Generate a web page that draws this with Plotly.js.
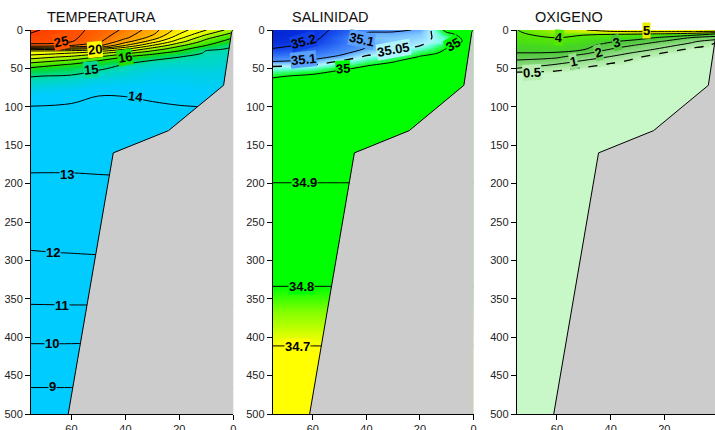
<!DOCTYPE html>
<html><head><meta charset="utf-8">
<script src="https://cdn.plot.ly/plotly-3.0.1.min.js"></script>
<style>html,body{margin:0;padding:0;overflow:hidden;background:#fff}#chart{width:720px;height:430px}</style>
</head><body><div id="chart"></div>
<script>
// ---------- DATA ----------
const distKm = [75, 60, 50, 40, 30, 20, 10, 0];

// Temperature (deg C)
const tempDepth = [0, 5, 10, 15, 20, 22.5, 25, 27.5, 30, 35, 40, 45, 50, 60, 70, 85, 100, 130, 185, 250, 290, 360, 405, 465, 500];
const tempValues = [
  [26.2, 25.3, 24.7, 23.8, 22.5, 20.5, 19.01, 17.5],
  [25.95, 25.25, 24.6, 23.5, 22.2, 20.01, 18.2, 16.7],
  [25.8, 25.2, 24.4, 23.2, 21.6, 19.3, 17.3, 16.01],
  [25.4, 25.05, 24.2, 22.4, 20.5, 18.4, 16.6, 15.5],
  [24.7, 24.02, 23.3, 21.02, 19.01, 17.25, 16.01, 15.01],
  [23.02, 22.7, 22.02, 20.01, 18.2, 16.75, 15.6, 14.95],
  [21.3, 21.02, 20.3, 19.01, 17.5, 16.35, 15.15, 14.9],
  [19.9, 19.7, 19.2, 18.2, 16.9, 15.95, 14.95, 14.88],
  [19.5, 19.01, 18.3, 17.3, 16.25, 15.6, 14.9, 14.85],
  [18.5, 17.8, 17.01, 16.01, 15.5, 15.01, 14.85, 14.8],
  [17.5, 16.8, 16.01, 15.45, 14.95, 14.85, 14.8, 14.75],
  [16.6, 15.9, 15.5, 14.95, 14.8, 14.75, 14.75, 14.7],
  [15.85, 15.5, 15.08, 14.85, 14.7, 14.65, 14.7, 14.65],
  [15.03, 14.92, 14.75, 14.65, 14.5, 14.5, 14.55, 14.55],
  [14.75, 14.63, 14.45, 14.4, 14.35, 14.4, 14.45, 14.45],
  [14.35, 14.2, 14.01, 14.02, 14.12, 14.2, 14.25, 14.3],
  [13.98, 13.92, 13.85, 13.85, 13.9, 13.97, 14.01, 14.1],
  [13.65, 13.6, 13.55, 13.55, 13.6, 13.6, 13.7, 13.75],
  [13.01, 13.01, 13.03, 13.05, 13.1, 13.1, 13.1, 13.1],
  [12.37, 12.38, 12.4, 12.42, 12.45, 12.45, 12.45, 12.45],
  [11.97, 12.01, 12.04, 12.05, 12.07, 12.07, 12.07, 12.07],
  [10.96, 10.97, 10.97, 10.97, 10.97, 10.97, 10.97, 10.97],
  [10.06, 10.06, 10.04, 10.04, 10.04, 10.04, 10.04, 10.04],
  [9.01, 9.01, 9.01, 9.01, 9.01, 9.01, 9.01, 9.01],
  [8.4, 8.4, 8.4, 8.4, 8.4, 8.4, 8.4, 8.4]
];

// Salinity
const salDepth = [0, 5, 10, 15, 20, 25, 30, 35, 40, 45, 50, 55, 60, 70, 100, 130, 160, 200, 250, 290, 335, 360, 385, 412, 465, 500];
const salValues = [
  [35.26, 35.23, 35.18, 35.12, 35.11, 35.095, 34.985, 34.96],
  [35.26, 35.225, 35.17, 35.09, 35.09, 35.08, 35.01, 34.97],
  [35.25, 35.22, 35.15, 35.085, 35.08, 35.07, 35.025, 34.975],
  [35.24, 35.205, 35.15, 35.095, 35.075, 35.06, 35.03, 34.978],
  [35.22, 35.185, 35.14, 35.105, 35.07, 35.052, 35.005, 34.98],
  [35.195, 35.16, 35.13, 35.095, 35.06, 35.03, 34.998, 34.98],
  [35.16, 35.14, 35.115, 35.07, 35.045, 35.01, 34.995, 34.98],
  [35.13, 35.12, 35.09, 35.04, 35.02, 34.998, 34.99, 34.98],
  [35.11, 35.09, 35.052, 35.02, 35.003, 34.99, 34.988, 34.98],
  [35.06, 35.052, 35.025, 35.003, 34.995, 34.988, 34.986, 34.98],
  [35.04, 35.03, 35.005, 34.995, 34.99, 34.986, 34.985, 34.98],
  [35.02, 35.006, 34.995, 34.99, 34.988, 34.985, 34.984, 34.98],
  [35.003, 34.995, 34.99, 34.986, 34.985, 34.984, 34.983, 34.98],
  [34.99, 34.986, 34.985, 34.984, 34.983, 34.982, 34.981, 34.978],
  [34.97, 34.97, 34.97, 34.97, 34.97, 34.97, 34.97, 34.97],
  [34.95, 34.95, 34.95, 34.95, 34.95, 34.95, 34.95, 34.95],
  [34.935, 34.935, 34.935, 34.935, 34.935, 34.935, 34.935, 34.935],
  [34.899, 34.899, 34.899, 34.899, 34.899, 34.899, 34.899, 34.899],
  [34.865, 34.865, 34.865, 34.865, 34.865, 34.865, 34.865, 34.865],
  [34.835, 34.835, 34.835, 34.835, 34.835, 34.835, 34.835, 34.835],
  [34.799, 34.799, 34.799, 34.799, 34.799, 34.799, 34.799, 34.799],
  [34.77, 34.77, 34.77, 34.77, 34.77, 34.77, 34.77, 34.77],
  [34.74, 34.74, 34.74, 34.74, 34.74, 34.74, 34.74, 34.74],
  [34.699, 34.699, 34.699, 34.699, 34.699, 34.699, 34.699, 34.699],
  [34.67, 34.67, 34.67, 34.67, 34.67, 34.67, 34.67, 34.67],
  [34.66, 34.66, 34.66, 34.66, 34.66, 34.66, 34.66, 34.66]
];

// Oxygen
const oxyDepth = [0, 2, 5, 10, 15, 20, 25, 30, 35, 40, 45, 50, 55, 60, 70, 100, 500];
const oxyValues = [
  [3.98, 4.6, 4.95, 5.4, 5.5, 5.5, 5.5, 5.4],
  [3.95, 4.5, 4.7, 4.95, 5.05, 5.05, 5.02, 4.9],
  [3.9, 4.3, 4.1, 4.05, 4.05, 3.98, 3.7, 2.95],
  [3.8, 4.02, 3.8, 3.7, 3.4, 2.8, 1.98, 1.5],
  [3.7, 3.8, 3.6, 3.1, 2.6, 1.9, 1.15, 0.45],
  [3.5, 3.6, 3.35, 2.55, 1.9, 1.25, 0.7, 0.4],
  [3.3, 3.4, 3.1, 1.98, 1.35, 0.8, 0.42, 0.38],
  [2.98, 2.9, 2.2, 1.4, 0.85, 0.47, 0.38, 0.36],
  [2.45, 2.15, 1.5, 0.95, 0.52, 0.4, 0.36, 0.35],
  [1.9, 1.6, 0.95, 0.62, 0.42, 0.37, 0.35, 0.34],
  [1.45, 0.95, 0.65, 0.45, 0.38, 0.35, 0.34, 0.33],
  [0.98, 0.6, 0.45, 0.38, 0.34, 0.33, 0.33, 0.32],
  [0.48, 0.45, 0.38, 0.34, 0.32, 0.31, 0.31, 0.31],
  [0.38, 0.38, 0.34, 0.31, 0.3, 0.3, 0.3, 0.3],
  [0.3, 0.3, 0.3, 0.28, 0.28, 0.28, 0.28, 0.28],
  [0.25, 0.25, 0.25, 0.25, 0.25, 0.25, 0.25, 0.25],
  [0.2, 0.2, 0.2, 0.2, 0.2, 0.2, 0.2, 0.2]
];

// Sea floor (distance km, depth m)
const bathDist = [61.2, 44.5, 24, 19.5, 3.6, 0.6, 0];
const bathDepth = [500, 160, 131, 118, 72, 2, 0];

// Axis tick values and titles
const xTicks = [60, 40, 20, 0];
const panelTitles = ['TEMPERATURA', 'SALINIDAD', 'OXIGENO'];

// Contour label texts and their level values
const tempLabels = ['25', '20', '16', '15', '14', '13', '12', '11', '10', '9'];
const tempLabelLevels = [25, 20, 16, 15, 14, 13, 12, 11, 10, 9];
const salLabels = ['35.2', '35.1', '35.1', '35.05', '35', '35', '34.9', '34.8', '34.7'];
const salLabelLevels = [35.2, 35.1, 35.1, 35.05, 35, 35, 34.9, 34.8, 34.7];
const oxyLabels = ['5', '4', '3', '2', '1', '0.5'];
const oxyLabelLevels = [5, 4, 3, 2, 1, 0.5];

// ---------- STYLE / LAYOUT ----------
const tempStops = [[14,'#00ccff'],[14.3,'#00ccff'],[14.6,'#00d0e4'],[14.85,'#00d8c0'],[15,'#00dc98'],[15.5,'#00d848'],[16,'#22e000'],[17,'#66ee00'],[18,'#bbf500'],[19,'#eeff00'],[20,'#ffff00'],[21,'#ffdd00'],[22,'#ffbb00'],[23,'#ff9900'],[24,'#ff7700'],[25,'#ff5500'],[26.5,'#ff3300']];
const salStops = [[34.65,'#ffff00'],[34.70,'#ffff00'],[34.73,'#ccff00'],[34.76,'#88ff00'],[34.785,'#33ff00'],[34.80,'#00ff00'],[35.0,'#00ff00'],[35.03,'#60ffd0'],[35.05,'#b0f4ff'],[35.08,'#80c8ff'],[35.10,'#5aa0ff'],[35.15,'#2a6af5'],[35.20,'#1040e8'],[35.27,'#0020d0']];
const oxyStops = [[0,'#c8f8c8'],[0.42,'#c8f8c8'],[0.5,'#b8f0b0'],[1,'#98e090'],[2,'#70d060'],[3,'#4cc838'],[3.5,'#44d820'],[4,'#55e800'],[4.6,'#aaee00'],[5,'#e8ee00'],[5.6,'#ffff00']];

// label placement (x = km, y = m, a = text angle)
const tempLabelPos = [[63.8,15.2,-12],[51.4,26,-6],[40.3,35.5,-10],[52.6,52,-6],[36.3,86.8,8],[61.8,187.5,0],[66.7,290,0],[63.6,359,0],[67.3,408,0],[67,464,0]];
const salLabelPos = [[63.5,15.2,-15],[41.7,13,12],[63.5,38,-6],[29.7,25,-10],[48.6,50,-4],[7.5,18.7,-30],[63.2,198,0],[64.1,334,0],[65.7,411.5,0]];
const oxyLabelPos = [[26.5,1,0],[59.4,9.5,5],[37.7,16.5,-15],[44.5,29,-15],[53.8,41,-12],[69.3,55.6,-3]];

const W = 720, H = 430;
const xDomPx = [[31, 233.3], [272.7, 473.5], [516.7, 718]];
const yDomPx = [30, 414];
const titleX = [45, 290, 533];
const FONT = 'Arial, "Liberation Sans", sans-serif';

function hex(h){const n=parseInt(h.slice(1),16);return [n>>16&255,n>>8&255,n&255];}
function colorAt(stops, v){
  if (v <= stops[0][0]) return stops[0][1];
  for (let i = 1; i < stops.length; i++) {
    if (v <= stops[i][0]) {
      const t = (v - stops[i-1][0]) / (stops[i][0] - stops[i-1][0]);
      const a = hex(stops[i-1][1]), b = hex(stops[i][1]);
      return 'rgb(' + a.map((c,k)=>Math.round(c + (b[k]-c)*t)).join(',') + ')';
    }
  }
  return stops[stops.length-1][1];
}
function toScale(stops){
  const lo = stops[0][0], hi = stops[stops.length-1][0];
  return stops.map(s => [(s[0]-lo)/(hi-lo), s[1]]);
}

const traces = [];
function addPanel(idx, depth, z, stops, lev, dashLev) {
  const s = idx === 0 ? '' : String(idx + 1);
  const xa = 'x' + s, ya = 'y' + s;
  traces.push({type:'contour', x: distKm, y: depth, z: z, xaxis: xa, yaxis: ya,
    colorscale: toScale(stops), zmin: stops[0][0], zmax: stops[stops.length-1][0], zauto:false,
    showscale:false, autocontour:false,
    contours:{coloring:'heatmap', showlines:false, start: lev[0], end: lev[1], size: lev[2]},
    line:{width:0}, hoverinfo:'skip'});
  traces.push({type:'contour', x: distKm, y: depth, z: z, xaxis: xa, yaxis: ya,
    showscale:false, autocontour:false,
    contours:{coloring:'none', start: lev[0], end: lev[1], size: lev[2]},
    line:{color:'#000', width:1, smoothing:1}, hoverinfo:'skip'});
  if (dashLev !== null) {
    traces.push({type:'contour', x: distKm, y: depth, z: z, xaxis: xa, yaxis: ya,
      showscale:false, autocontour:false,
      contours:{coloring:'none', start: dashLev, end: dashLev, size: 1},
      line:{color:'#000', width:1.3, dash:'dash', smoothing:1}, hoverinfo:'skip'});
  }
  // sea floor fill (extended outside the axes so its outer edges are clipped)
  traces.push({type:'scatter', mode:'lines', xaxis: xa, yaxis: ya,
    x: bathDist.concat([-5, -5, bathDist[0]]), y: bathDepth.concat([-5, 530, 530]),
    fill:'toself', fillcolor:'#cccccc', line:{width:0}, hoverinfo:'skip'});
  traces.push({type:'scatter', mode:'lines', xaxis: xa, yaxis: ya,
    x: bathDist, y: bathDepth, line:{color:'#000', width:1}, hoverinfo:'skip'});
}
addPanel(0, tempDepth, tempValues, tempStops, [9, 26, 1], null);
addPanel(1, salDepth, salValues, salStops, [34.7, 35.2, 0.1], 35.05);
addPanel(2, oxyDepth, oxyValues, oxyStops, [1, 5, 1], 0.5);

const layout = {width: W, height: H, margin:{l:0, r:0, t:0, b:0},
  paper_bgcolor:'#fff', plot_bgcolor:'#fff', showlegend:false, annotations: []};
for (let i = 0; i < 3; i++) {
  const s = i === 0 ? '' : String(i + 1);
  layout['xaxis' + s] = {domain:[xDomPx[i][0]/W, xDomPx[i][1]/W], anchor:'y' + s, range:[75, 0],
    tickvals: xTicks, ticks:'outside', ticklen:5, tickcolor:'#000', showline:true, linecolor:'#000',
    linewidth:1, showgrid:false, zeroline:false, tickfont:{family:FONT, size:11, color:'#222'}, fixedrange:true};
  layout['yaxis' + s] = {domain:[(H - yDomPx[1])/H, (H - yDomPx[0])/H], anchor:'x' + s, range:[500, 0],
    tick0:0, dtick:50, ticks:'outside', ticklen:5, tickcolor:'#000', showline:true, linecolor:'#000',
    linewidth:1, showgrid:false, zeroline:false, tickfont:{family:FONT, size:11, color:'#222'}, fixedrange:true};
  layout.annotations.push({xref:'paper', yref:'paper', x: titleX[i]/W, y:(H - 17)/H, xanchor:'left', yanchor:'middle',
    text: panelTitles[i], showarrow:false, font:{family:FONT, size:14.5, color:'#111'}});
}
function addLabels(idx, texts, levels, pos, stops) {
  const s = idx === 0 ? '' : String(idx + 1);
  texts.forEach((t, k) => {
    layout.annotations.push({xref:'x' + s, yref:'y' + s, x: pos[k][0], y: pos[k][1], text: t,
      textangle: pos[k][2], showarrow:false, xanchor:'center', yanchor:'middle',
      bgcolor: colorAt(stops, levels[k]), borderpad:0,
      font:{family:FONT, size:13, color:'#000', weight:'bold'}});
  });
}
addLabels(0, tempLabels, tempLabelLevels, tempLabelPos, tempStops);
addLabels(1, salLabels, salLabelLevels, salLabelPos, salStops);
addLabels(2, oxyLabels, oxyLabelLevels, oxyLabelPos, oxyStops);

Plotly.newPlot('chart', traces, layout, {staticPlot:true, displayModeBar:false});
</script></body></html>
